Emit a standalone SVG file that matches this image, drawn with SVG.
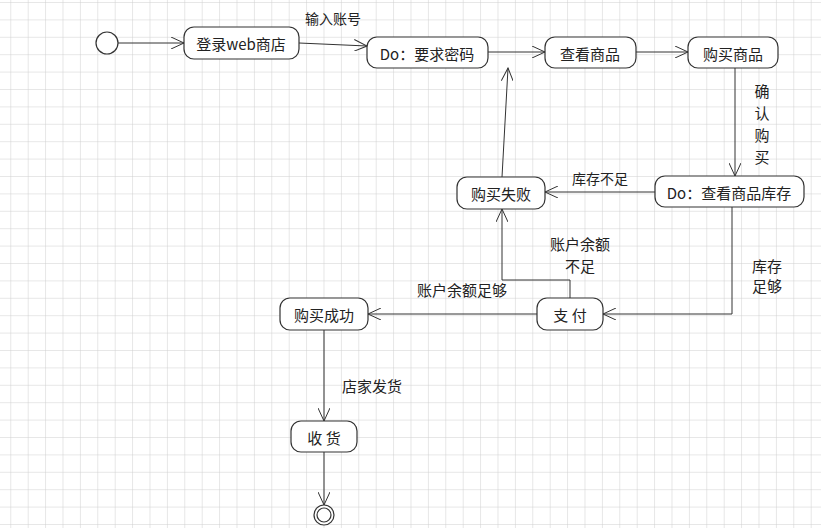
<svg xmlns="http://www.w3.org/2000/svg" width="821" height="528" viewBox="0 0 821 528">
<defs>
<pattern id="g" x="10.3" y="2" width="17.4" height="17.4" patternUnits="userSpaceOnUse">
<path d="M0 0H17.4M0 0V17.4" fill="none" stroke="#cfcfcf" stroke-width="1"/>
</pattern>
<marker id="a" markerWidth="14" markerHeight="12" refX="13" refY="6" orient="auto" markerUnits="userSpaceOnUse">
<path d="M0 0L13 6L0 12" fill="none" stroke="#333" stroke-width="1"/>
</marker>
</defs>
<style>
.n rect{fill:#fff;stroke:#333;stroke-width:1.2}
text{font-family:"Noto Sans CJK SC","Liberation Serif",sans-serif;font-size:15px;fill:#222;text-anchor:middle;dominant-baseline:central}
.l{font-size:15px}
#c path{fill:none;stroke:#333;stroke-width:1;marker-end:url(#a)}
</style>
<rect width="821" height="528" fill="#fff"/>
<rect width="821" height="528" fill="url(#g)"/>
<g id="c">
<path d="M118 43H184"/>
<path d="M299 43L367 46"/>
<path d="M488 52H545"/>
<path d="M636 52H688"/>
<path d="M735 68V176"/>
<path d="M655 192H545"/>
<path d="M502 177L508 68"/>
<path d="M732 207V314H603"/>
<path d="M570 298V280H502V209"/>
<path d="M537 314H368"/>
<path d="M324 330V421"/>
<path d="M324 452V505"/>
</g>
<g>
<text class="l" x="333" y="18" style="font-size:14px">输入账号</text>
<text class="l" x="762" y="90">确</text><text class="l" x="762" y="112">认</text><text class="l" x="762" y="134">购</text><text class="l" x="762" y="156">买</text>
<text class="l" x="600" y="178" style="font-size:14px">库存不足</text>
<text class="l" x="767" y="265">库存</text><text class="l" x="767" y="285">足够</text>
<text class="l" x="580" y="243">账户余额</text><text class="l" x="580" y="265">不足</text>
<text class="l" x="462" y="289">账户余额足够</text>
<text class="l" x="372" y="385">店家发货</text>
</g>
<g id="start"><circle cx="107" cy="43" r="11" fill="#fff" stroke="#333" stroke-width="1.2"/></g>
<g id="n1" class="n"><rect x="184" y="27" width="115" height="32" rx="10"/><text x="241" y="43">登录web商店</text></g>
<g id="n2" class="n"><rect x="367" y="37" width="121" height="31" rx="10"/><text x="427" y="53">Do：要求密码</text></g>
<g id="n3" class="n"><rect x="545" y="37" width="91" height="31" rx="10"/><text x="590" y="53">查看商品</text></g>
<g id="n4" class="n"><rect x="688" y="37" width="90" height="31" rx="10"/><text x="733" y="53">购买商品</text></g>
<g id="n5" class="n"><rect x="655" y="176" width="149" height="31" rx="10"/><text x="729" y="192">Do：查看商品库存</text></g>
<g id="n6" class="n"><rect x="457" y="177" width="88" height="32" rx="10"/><text x="501" y="193">购买失败</text></g>
<g id="n7" class="n"><rect x="537" y="298" width="66" height="32" rx="10"/><text x="570" y="314">支  付</text></g>
<g id="n8" class="n"><rect x="280" y="298" width="88" height="32" rx="10"/><text x="324" y="314">购买成功</text></g>
<g id="n9" class="n"><rect x="291" y="421" width="66" height="31" rx="10"/><text x="324" y="437">收  货</text></g>
<g id="end"><circle cx="324" cy="515" r="10" fill="#fff" stroke="#333" stroke-width="1.2"/><circle cx="324" cy="515" r="7" fill="none" stroke="#333" stroke-width="1.2"/></g>
</svg>
